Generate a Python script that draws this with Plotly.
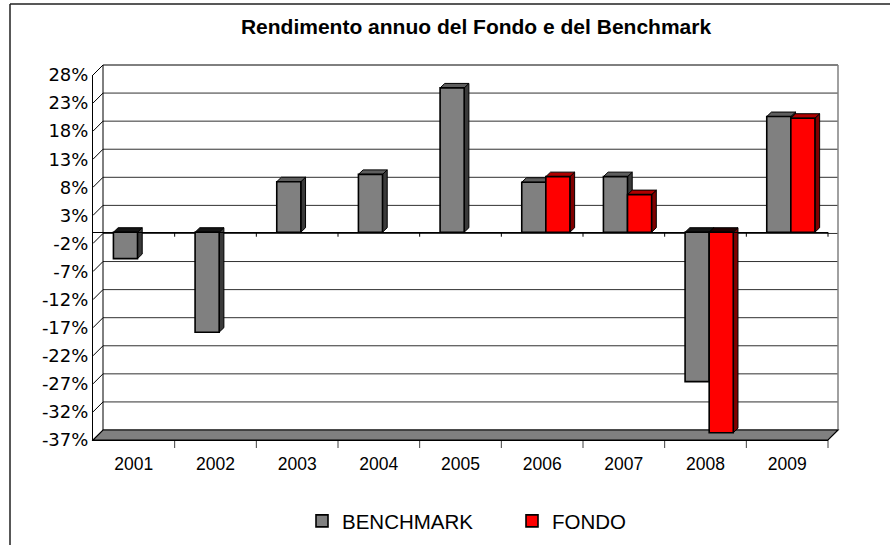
import plotly.graph_objects as go

# ---------------- data ----------------
years = ["2001", "2002", "2003", "2004", "2005", "2006", "2007", "2008", "2009"]
benchmark = [-4.7, -17.8, 9.0, 10.3, 25.7, 8.9, 9.9, -26.6, 20.6]
fondo = [None, None, None, None, None, 9.9, 6.7, -35.7, 20.3]
y_ticks = [-37, -32, -27, -22, -17, -12, -7, -2, 3, 8, 13, 18, 23, 28]
y_labels = [f"{v}%" for v in y_ticks]
title_text = "Rendimento annuo del Fondo e del Benchmark"

# ---------------- geometry ----------------
W, H = 890, 545
L, R, T, B = 93, 62, 75, 105
PW = W - L - R
PH = H - T - B
YMIN, YMAX = -37, 28
XMIN, XMAX = -0.5, 8.5
DEPTH = 10          # wall depth (px)
BAR_DX, BAR_DY = 4.7, 4.5   # bar depth (px)
BAR_W = 0.295
OFF_B, OFF_F = -0.25, 0.045

FONT = "Liberation Sans, Arial, Helvetica, sans-serif"
FONT_Y = "DejaVu Sans, Liberation Sans, Arial, sans-serif"


def px_x(p):
    return (p - L) / PW


def px_y(p):
    return (H - B - p) / PH


def val_py(v):
    return T + (YMAX - v) / (YMAX - YMIN) * PH


def cat_px(c):
    return L + (c - XMIN) / (XMAX - XMIN) * PW


xs = list(range(len(years)))

fig = go.Figure()
fig.add_trace(go.Bar(
    x=xs, y=benchmark, name="BENCHMARK", width=BAR_W, offset=OFF_B,
    marker=dict(color="#808080", line=dict(color="black", width=1.6)),
    hoverinfo="x+y",
))
fig.add_trace(go.Bar(
    x=xs, y=fondo, name="FONDO", width=BAR_W, offset=OFF_F,
    marker=dict(color="#ff0000", line=dict(color="black", width=1.6)),
    hoverinfo="x+y",
))

shapes = []


def pline(x0, y0, x1, y1, color="black", width=1):
    shapes.append(dict(type="line", xref="paper", yref="paper",
                       x0=px_x(x0), y0=px_y(y0), x1=px_x(x1), y1=px_y(y1),
                       line=dict(color=color, width=width), layer="below"))


# chart border (top & left)
pline(10, 4, 890, 4, "#202020", 1.5)
pline(10, 4, 10, 545, "#202020", 1.5)

# back wall gridlines + diagonal ticks
for v in y_ticks:
    yb = val_py(v) - DEPTH
    col = "black" if v == YMAX else "#303030"
    pline(L + DEPTH, yb, L + PW + DEPTH, yb, col, 1)
    pline(L, val_py(v), L + DEPTH, yb, "black", 1)
# back wall edges
pline(L + DEPTH, T - DEPTH, L + DEPTH, H - B - DEPTH, "black", 1)
pline(L + PW + DEPTH, T - DEPTH, L + PW + DEPTH, H - B - DEPTH, "#808080", 1.5)

# floor
fy = H - B
floor_path = "M {},{} L {},{} L {},{} L {},{} Z".format(
    px_x(L), px_y(fy), px_x(L + PW), px_y(fy),
    px_x(L + PW + DEPTH), px_y(fy - DEPTH), px_x(L + DEPTH), px_y(fy - DEPTH))
shapes.append(dict(type="path", xref="paper", yref="paper", path=floor_path,
                   fillcolor="#808080", line=dict(color="black", width=1.2), layer="below"))

# category boundary ticks on zero line and bottom axis
for k in range(1, len(years) + 1):
    xp = cat_px(XMIN + k)
    pline(xp, val_py(0), xp, val_py(0) + 4.5, "black", 1)
    pline(xp, fy, xp, fy + 8, "#404040", 1)

# bar depth faces (data coordinates)
dxu = BAR_DX * (XMAX - XMIN) / PW
dyu = BAR_DY * (YMAX - YMIN) / PH


def faces(values, offset, side_col, top_col, neg_top_col):
    for i, v in enumerate(values):
        if v is None:
            continue
        xl = xs[i] + offset
        xr = xl + BAR_W
        top = max(v, 0)
        bot = min(v, 0)
        side = f"M {xr},{bot} L {xr},{top} L {xr + dxu},{top + dyu} L {xr + dxu},{bot + dyu} Z"
        shapes.append(dict(type="path", xref="x", yref="y", path=side,
                           fillcolor=side_col, line=dict(color="black", width=1), layer="below"))
        topf = f"M {xl},{top} L {xr},{top} L {xr + dxu},{top + dyu} L {xl + dxu},{top + dyu} Z"
        shapes.append(dict(type="path", xref="x", yref="y", path=topf,
                           fillcolor=(top_col if v > 0 else neg_top_col),
                           line=dict(color="black", width=1), layer="below"))


faces(benchmark, OFF_B, "#3a3a3a", "#5e5e5e", "#151515")
faces(fondo, OFF_F, "#800000", "#b00000", "#200000")

fig.update_layout(
    width=W, height=H,
    margin=dict(l=L, r=R, t=T, b=B, pad=0, autoexpand=False),
    paper_bgcolor="white", plot_bgcolor="rgba(0,0,0,0)",
    font=dict(family=FONT, color="black", size=17),
    title=dict(text=f"<b>{title_text}</b>", x=px_x(476), xref="paper", xanchor="center",
               y=1 - 27 / H, yref="container", yanchor="middle",
               font=dict(family=FONT, size=21, color="black")),
    barmode="overlay",
    showlegend=True,
    legend=dict(orientation="h", x=px_x(512), xanchor="center", y=px_y(521), yanchor="middle",
                font=dict(family=FONT, size=20.5, color="black"), entrywidth=165,
                bgcolor="rgba(0,0,0,0)", itemclick=False, itemdoubleclick=False),
    xaxis=dict(range=[XMIN, XMAX], tickvals=xs, ticktext=years, showgrid=False,
               zeroline=False, showline=True, linecolor="black", linewidth=1,
               ticks="outside", ticklen=8, tickcolor="rgba(0,0,0,0)",
               tickfont=dict(family=FONT, size=17.5, color="black"), fixedrange=True),
    yaxis=dict(range=[YMIN, YMAX], tickvals=y_ticks, ticktext=y_labels, showgrid=False,
               zeroline=True, zerolinecolor="black", zerolinewidth=1.2,
               showline=True, linecolor="black", linewidth=1, ticks="",
               tickfont=dict(family=FONT_Y, size=18, color="black"), fixedrange=True),
    shapes=shapes,
)

fig.write_html("out.html", config={"displayModeBar": False},
               post_script="document.body.style.margin='0';document.body.style.overflow='hidden';")
